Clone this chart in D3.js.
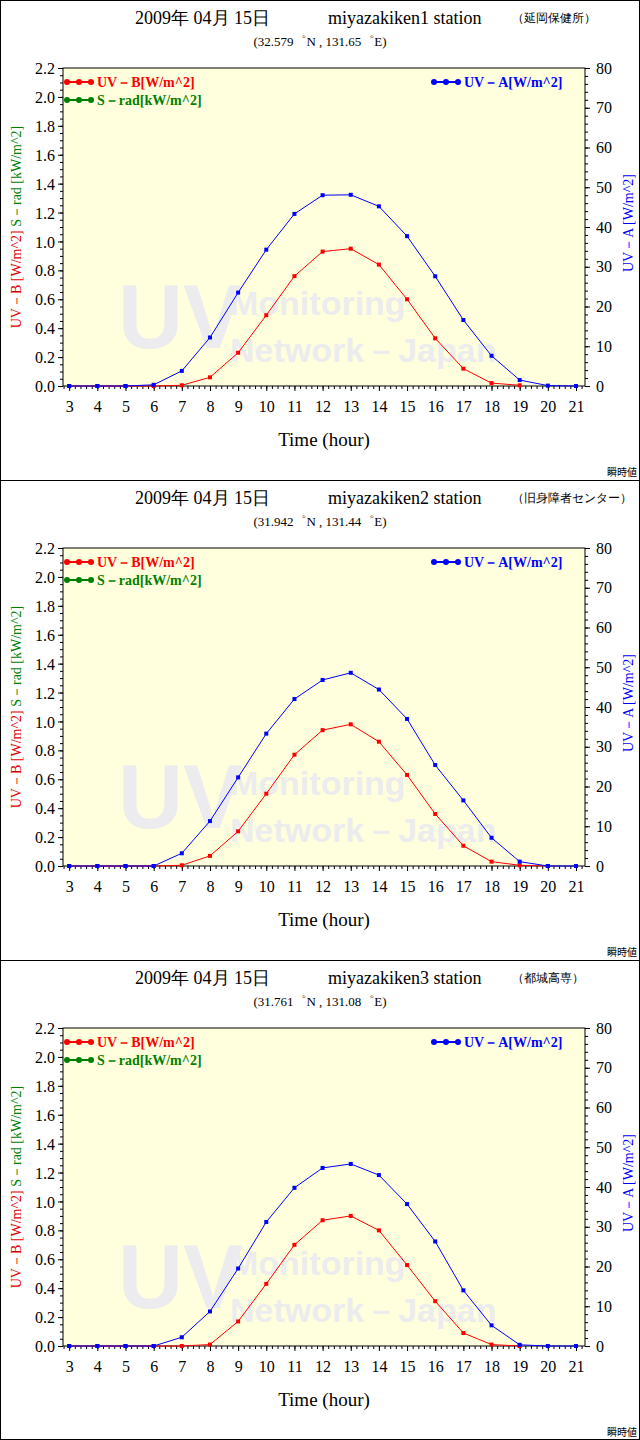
<!DOCTYPE html>
<html><head><meta charset="utf-8">
<script src="https://cdn.jsdelivr.net/npm/d3@7"></script>
<style>body{margin:0;background:#fff}svg{display:block}</style>
</head><body>
<script>
const hours = d3.range(3, 22);
const stations = ["miyazakiken1 station", "miyazakiken2 station", "miyazakiken3 station"];
const places = ["（延岡保健所）", "（旧身障者センター）", "（都城高専）"];
const coords = ["(32.579゜N , 131.65゜E)", "(31.942゜N , 131.44゜E)", "(31.761゜N , 131.08゜E)"];
const uvb1 = [0,0,0,0,0.005,0.06,0.23,0.49,0.76,0.93,0.95,0.84,0.60,0.33,0.12,0.02,0.005,null,null];
const uva1 = [0,0,0,0.3,3.8,12.2,23.5,34.3,43.3,48.0,48.1,45.2,37.7,27.6,16.6,7.6,1.5,0.1,0];
const uvb2 = [0,0,0,0,0.005,0.07,0.24,0.50,0.77,0.94,0.98,0.86,0.63,0.36,0.14,0.03,0.005,0,null];
const uva2 = [0,0,0,0,3.2,11.3,22.3,33.3,42.0,46.8,48.6,44.4,37.0,25.4,16.5,7.1,1.1,0,0];
const uvb3 = [0,0,0,0,0,0.01,0.17,0.43,0.70,0.87,0.90,0.80,0.56,0.31,0.09,0.01,0,null,null];
const uva3 = [0,0,0,0,2.2,8.7,19.5,31.2,39.8,44.8,45.8,43.0,35.7,26.3,14.0,5.2,0.3,0,0];
const leftTicks = d3.range(0, 2.21, 0.2);
const rightTicks = d3.range(0, 81, 10);
const uvbSets = [uvb1, uvb2, uvb3], uvaSets = [uva1, uva2, uva3];

const W = 640, H = 1440, PH = 480;
const serif = "'Liberation Serif','DejaVu Serif',serif";
const svg = d3.select("body").append("svg").attr("width", W).attr("height", H);
svg.append("rect").attr("x",0.5).attr("y",0.5).attr("width",W-1).attr("height",H-1).attr("fill","#fff").attr("stroke","#000");

const x = d3.scaleLinear().domain([2.78, 21.32]).range([63, 585]);
const yL = d3.scaleLinear().domain([0, 2.2]).range([386, 68]);
const yR = d3.scaleLinear().domain([0, 80]).range([386, 68]);

stations.forEach((st, i) => {
  const g = svg.append("g").attr("transform", `translate(0,${i*PH})`);
  if (i > 0) g.append("line").attr("x1",0).attr("x2",W).attr("y1",0.5).attr("y2",0.5).attr("stroke","#000");
  g.append("text").attr("x",135).attr("y",24).attr("font-family",serif).attr("font-size",18).text("2009年 04月 15日");
  g.append("text").attr("x",328).attr("y",24).attr("font-family",serif).attr("font-size",18).text(st);
  g.append("text").attr("x",512).attr("y",22).attr("font-family",serif).attr("font-size",12).text(places[i]);
  g.append("text").attr("x",320).attr("y",46).attr("text-anchor","middle").attr("font-family",serif).attr("font-size",13).text(coords[i]);
  g.append("rect").attr("x",63).attr("y",68).attr("width",522).attr("height",318).attr("fill","#ffffdd").attr("stroke","#000");
  // watermark
  g.append("text").attr("x",118).attr("y",348).attr("font-family","'Liberation Sans',Arial,sans-serif").attr("font-weight","bold").attr("font-size",90).attr("fill","#ececee").text("UV");
  g.append("text").attr("x",230).attr("y",315).attr("font-family","'Liberation Sans',Arial,sans-serif").attr("font-weight","bold").attr("font-size",34).attr("fill","#ececee").text("Monitoring");
  g.append("text").attr("x",230).attr("y",362).attr("font-family","'Liberation Sans',Arial,sans-serif").attr("font-weight","bold").attr("font-size",34).attr("fill","#ececee").text("Network－Japan");
  // axes
  const ax = g.append("g").attr("transform","translate(0,386)").call(d3.axisBottom(x).tickValues(d3.range(2.8,21.31,0.2)).tickSize(3).tickFormat(""));
  const ax2 = g.append("g").attr("transform","translate(0,386)").call(d3.axisBottom(x).tickValues(hours).tickSize(5).tickFormat(d3.format("d")));
  const al = g.append("g").attr("transform","translate(63,0)").call(d3.axisLeft(yL).tickValues(d3.range(0,2.21,0.05)).tickSize(3).tickFormat(""));
  const al2 = g.append("g").attr("transform","translate(63,0)").call(d3.axisLeft(yL).tickValues(leftTicks).tickSize(5).tickFormat(d3.format(".1f")));
  const ar = g.append("g").attr("transform","translate(585,0)").call(d3.axisRight(yR).tickValues(d3.range(0,81,2)).tickSize(3).tickFormat(""));
  const ar2 = g.append("g").attr("transform","translate(585,0)").call(d3.axisRight(yR).tickValues(rightTicks).tickSize(5).tickFormat(d3.format("d")));
  [ax,ax2,al,al2,ar,ar2].forEach(a => { a.select(".domain").remove(); a.selectAll("text").attr("font-family",serif).attr("font-size",16).attr("fill","#000"); });
  ax2.selectAll("text").attr("dy","1.1em");
  al2.selectAll("text").attr("dy","0.35em");
  ar2.selectAll("text").attr("x",11);
  g.append("text").attr("x",324).attr("y",446).attr("text-anchor","middle").attr("font-family",serif).attr("font-size",19).text("Time (hour)");
  g.append("text").attr("x",637).attr("y",476).attr("text-anchor","end").attr("font-family","'Noto Sans CJK JP',sans-serif").attr("font-size",10).text("瞬時値");
  // axis titles
  const lt = g.append("text").attr("transform","translate(21,227) rotate(-90)").attr("text-anchor","middle").attr("font-family",serif).attr("font-size",14);
  lt.append("tspan").attr("fill","#e00000").text("UV－B [W/m^2]");
  lt.append("tspan").attr("fill","#fff").text("    ");
  lt.append("tspan").attr("fill","#008000").text("S－rad [kW/m^2]");
  g.append("text").attr("transform","translate(633,272) rotate(-90)").attr("font-family",serif).attr("font-size",14).attr("fill","#0000ff").text("UV－A [W/m^2]");
  // legend
  const leg = (x0, y0, col, label) => {
    g.append("line").attr("x1",x0).attr("x2",x0+24).attr("y1",y0).attr("y2",y0).attr("stroke",col).attr("stroke-width",2);
    [0,12,24].forEach(d => g.append("circle").attr("cx",x0+d).attr("cy",y0).attr("r",3).attr("fill",col));
    g.append("text").attr("x",x0+30).attr("y",y0+5).attr("font-family",serif).attr("font-weight","bold").attr("font-size",14).attr("fill",col).text(label);
  };
  leg(67, 82, "#ff0000", "UV－B[W/m^2]");
  leg(67, 100, "#008000", "S－rad[kW/m^2]");
  leg(434, 82, "#0000ff", "UV－A[W/m^2]");
  // series
  const draw = (vals, y, col) => {
    const pts = hours.map((h,k)=>({h,v:vals[k]})).filter(d=>d.v!=null);
    g.append("path").datum(pts).attr("fill","none").attr("stroke",col).attr("stroke-width",1)
      .attr("d", d3.line().x(d=>x(d.h)).y(d=>y(d.v)));
    g.selectAll(null).data(pts).enter().append("rect").attr("x",d=>x(d.h)-2).attr("y",d=>y(d.v)-2).attr("width",4).attr("height",4).attr("fill",col);
  };
  draw(uvbSets[i], yL, "#ff0000");
  draw(uvaSets[i], yR, "#0000ff");
});
</script>
</body></html>
